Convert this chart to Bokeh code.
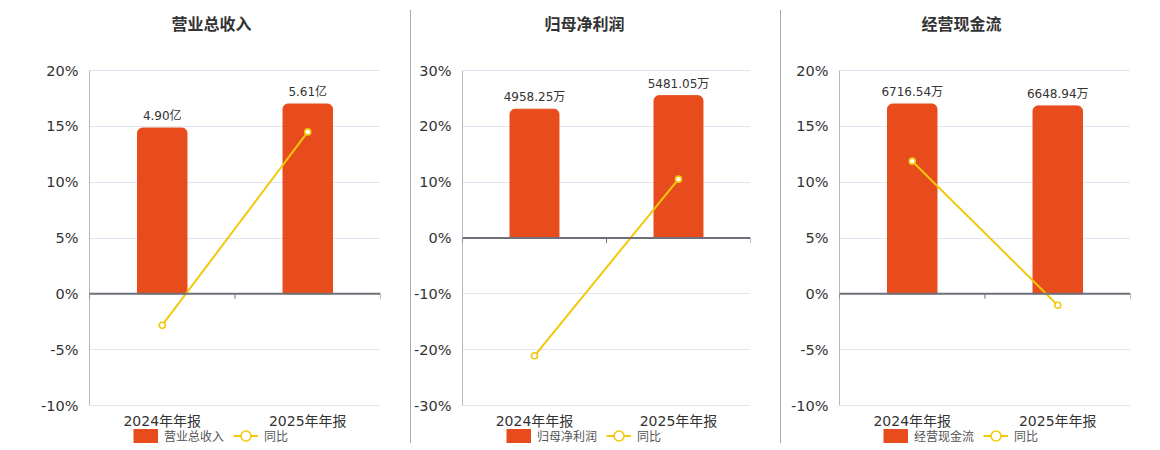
import numpy as np
from bokeh.plotting import figure
from bokeh.models import (Range1d, FixedTicker, PrintfTickFormatter, Span,
                          Legend, LegendItem, Div)
from bokeh.layouts import row
from bokeh.core.properties import value
from bokeh.embed import file_html
from bokeh.resources import INLINE

# ---------------- data ----------------
categories = ["2024年年报", "2025年年报"]

titles = ["营业总收入", "归母净利润", "经营现金流"]

revenue_values = [4.90, 5.61]
revenue_labels = ["4.90亿", "5.61亿"]
revenue_yoy = [-2.81, 14.5]

profit_values = [4958.25, 5481.05]
profit_labels = ["4958.25万", "5481.05万"]
profit_yoy = [-21.1, 10.54]

cash_values = [6716.54, 6648.94]
cash_labels = ["6716.54万", "6648.94万"]
cash_yoy = [11.88, -1.02]

pct_ticks_a = [-10, -5, 0, 5, 10, 15, 20]
pct_ticks_b = [-30, -20, -10, 0, 10, 20, 30]

# ---------------- style ----------------
BAR = "#e84c1d"
LINE = "#f2c80c"
AXIS = "#6e7079"
GRID = "#e0e6f1"
TXT = "#333333"
FONT = "DejaVu Sans, 'Noto Sans CJK SC', sans-serif"
CJK = "'Noto Sans CJK SC', sans-serif"

FIG_H = 440          # figure height (px)
TOP_PAD = 62         # px from figure top to the top gridline
BOT_PAD = 43         # px from the bottom gridline to the figure bottom


def panel(title, vals, labels, yoy, ticks, width, left, right):
    ymin, ymax = ticks[0], ticks[-1]
    plot_px = FIG_H - TOP_PAD - BOT_PAD
    k = plot_px / (ymax - ymin)            # px per percent
    y_lo = ymin - BOT_PAD / k
    y_hi = ymax + TOP_PAD / k

    p = figure(width=width, height=FIG_H, output_backend="svg", toolbar_location=None,
               x_range=Range1d(0, len(categories)), y_range=Range1d(y_lo, y_hi),
               min_border_left=left, min_border_right=right,
               min_border_top=0, min_border_bottom=0)
    p.outline_line_color = None
    p.background_fill_color = "white"
    p.border_fill_color = "white"
    p.xaxis.visible = False

    # hidden bar scale: tallest bar reaches 85% of the positive extent
    r = (max(vals) / 0.85) / ymax
    p.extra_y_ranges = {"bar": Range1d(y_lo * r, y_hi * r)}

    xs = [i + 0.5 for i in range(len(categories))]

    # y axis
    p.yaxis.ticker = FixedTicker(ticks=ticks)
    p.yaxis.formatter = PrintfTickFormatter(format="%d%%")
    p.yaxis.axis_line_color = None
    p.yaxis.major_tick_line_color = None
    p.yaxis.minor_tick_line_color = None
    p.yaxis.major_label_text_font = FONT
    p.yaxis.major_label_text_font_size = "14.5px"
    p.yaxis.major_label_text_color = TXT
    p.yaxis.major_label_standoff = 5

    p.ygrid.ticker = FixedTicker(ticks=ticks)
    p.ygrid.grid_line_color = GRID
    p.xgrid.grid_line_color = None

    # y axis line over the value extent
    p.segment(x0=[0], y0=[ymin], x1=[0], y1=[ymax], line_color=AXIS, line_width=1)

    # title
    p.text(x=[0], y=[y_hi], text=[title], x_offset=82, y_offset=14,
           text_align="left", text_baseline="middle", text_font=value(CJK),
           text_font_size="16px", text_font_style="bold", text_color=TXT)

    # category labels under the plot
    p.text(x=xs, y=[ymin] * len(xs), text=categories, y_offset=15,
           text_align="center", text_baseline="middle", text_font=value(FONT),
           text_font_size="14px", text_color=TXT)

    p.vbar(x=xs, top=vals, bottom=0, width=0.34, y_range_name="bar",
           fill_color=BAR, line_color=BAR, border_radius=(5, 5, 0, 0))
    p.text(x=xs, y=vals, text=labels, y_range_name="bar", y_offset=-5,
           text_align="center", text_baseline="bottom", text_font=value(FONT),
           text_font_size="12px", text_color=TXT)

    # zero axis line with category boundary ticks
    p.add_layout(Span(location=0, dimension="width", line_color=AXIS, line_width=2))
    bounds = list(range(len(categories) + 1))
    p.ray(x=bounds, y=[0] * len(bounds), length=5, length_units="screen",
          angle=-np.pi / 2, line_color=AXIS, line_width=1)

    ln = p.line(x=xs, y=yoy, line_color=LINE, line_width=2)
    pts = p.scatter(x=xs, y=yoy, size=6, fill_color="white", line_color=LINE, line_width=1.6)

    # legend proxy for the bars: a one-point line (draws nothing in the plot)
    # whose thick stroke gives a 25x14 swatch in the legend
    bar_proxy = p.line(x=xs[:1], y=[0], line_color=BAR, line_width=14)

    leg = Legend(items=[LegendItem(label=title, renderers=[bar_proxy]),
                        LegendItem(label="同比", renderers=[ln, pts])],
                 location=(44, 0), orientation="horizontal",
                 glyph_width=25, glyph_height=25, label_standoff=6, spacing=9,
                 padding=0, margin=0,
                 border_line_color=None, background_fill_alpha=0,
                 label_text_font=CJK, label_text_font_size="12px", label_text_color="#555555")
    p.add_layout(leg)
    return p


p1 = panel(titles[0], revenue_values, revenue_labels, revenue_yoy, pct_ticks_a, 402, 81, 30)
p2 = panel(titles[1], profit_values, profit_labels, profit_yoy, pct_ticks_b, 369, 48, 30)
p3 = panel(titles[2], cash_values, cash_labels, cash_yoy, pct_ticks_a, 371, 58, 22)


def sep():
    return Div(text="", width=1, height=433, margin=(2, 0, 0, 0),
               styles={"background-color": "#aaaaaa"})


layout = row(p1, sep(), p2, sep(), p3, margin=(8, 0, 0, 8))

open("out.html", "w").write(file_html(layout, INLINE))
